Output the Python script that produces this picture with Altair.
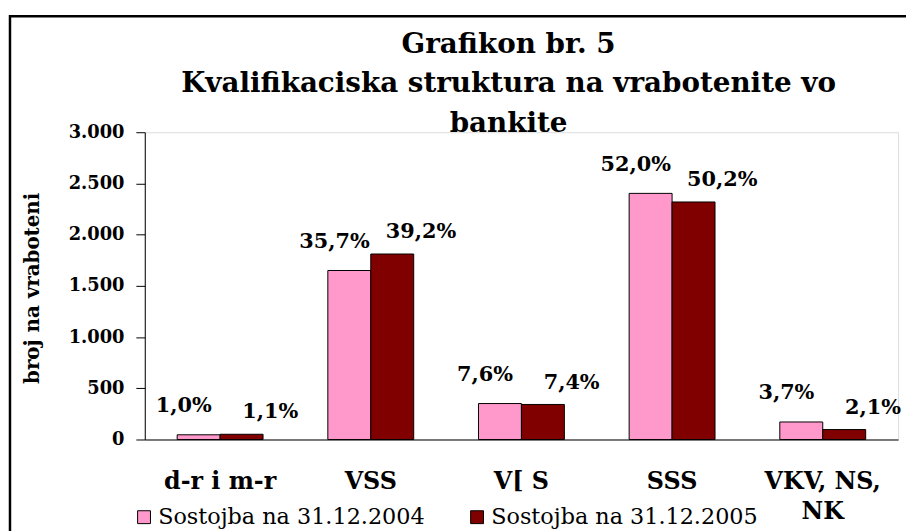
import altair as alt
import pandas as pd

categories = ["d-r i m-r", "VSS", "V[ S", "SSS", "VKV, NS, NK"]
series_names = ["Sostojba na 31.12.2004", "Sostojba na 31.12.2005"]
values_2004 = [46, 1650, 351, 2403, 171]
values_2005 = [51, 1811, 342, 2319, 97]
pct_2004 = [1.0, 35.7, 7.6, 52.0, 3.7]
pct_2005 = [1.1, 39.2, 7.4, 50.2, 2.1]
y_ticks = [0, 500, 1000, 1500, 2000, 2500, 3000]
colors = ["#FF99CC", "#800000"]
title_lines = ["Grafikon br. 5", "Kvalifikaciska struktura na vrabotenite vo", "bankite"]
y_title = "broj na vraboteni"

rows = []
for i, c in enumerate(categories):
    rows.append({"cat": c, "series": series_names[0], "value": values_2004[i], "pct": pct_2004[i]})
    rows.append({"cat": c, "series": series_names[1], "value": values_2005[i], "pct": pct_2005[i]})
df = pd.DataFrame(rows)

SERIF = "DejaVu Serif"

x_enc = alt.X(
    "cat:N", sort=categories,
    scale=alt.Scale(paddingInner=0.43, paddingOuter=0.215),
    axis=alt.Axis(
        title=None, labelAngle=0, ticks=False, tickSize=0,
        domainColor="black", domainWidth=1,
        labelFont=SERIF, labelFontWeight="bold", labelFontSize=24, labelColor="black",
        labelBaseline="alphabetic", labelPadding=49, labelLineHeight=31,
        labelExpr="datum.value == 'VKV, NS, NK' ? ['VKV, NS,', 'NK'] : datum.value",
    ),
)
xo_enc = alt.XOffset("series:N", sort=series_names, scale=alt.Scale(paddingInner=0, paddingOuter=0))
y_enc = alt.Y(
    "value:Q",
    scale=alt.Scale(domain=[0, 3000], nice=False),
    axis=alt.Axis(
        values=y_ticks, grid=False,
        labelExpr="replace(format(datum.value, ','), ',', '.')",
        labelFont=SERIF, labelFontWeight="bold", labelFontSize=18, labelColor="black",
        labelPadding=12, tickSize=9, tickColor="black", domainColor="black",
        title=y_title, titleFont=SERIF, titleFontWeight="bold", titleFontSize=20,
        titleColor="black", titleAngle=270, titleX=-113, titleY=157,
        titleBaseline="middle", titleAlign="center",
    ),
)
color_enc = alt.Color(
    "series:N", sort=series_names,
    scale=alt.Scale(domain=series_names, range=colors),
    legend=alt.Legend(
        title=None, orient="none", legendX=-12, legendY=377, direction="horizontal",
        symbolType="square", symbolSize=169, symbolStrokeColor="black", symbolStrokeWidth=1,
        labelFont=SERIF, labelFontSize=22.5, labelColor="black", labelLimit=0,
        labelOffset=3, columnPadding=41,
    ),
)

bars = alt.Chart(df).mark_bar(stroke="black", strokeWidth=1).encode(
    x=x_enc, xOffset=xo_enc, y=y_enc, color=color_enc
)

label_calc = "replace(format(datum.pct, '.1f'), '.', ',') + '%'"

text1 = alt.Chart(df).transform_filter(
    alt.datum.series == series_names[0]
).transform_calculate(label=label_calc).mark_text(
    font=SERIF, fontWeight="bold", fontSize=21, color="black",
    baseline="alphabetic", dx=-15, dy=-23,
).encode(x=alt.X("cat:N", sort=categories), xOffset=alt.XOffset("series:N", sort=series_names),
         y="value:Q", text="label:N")

text2 = alt.Chart(df).transform_filter(
    alt.datum.series == series_names[1]
).transform_calculate(label=label_calc).mark_text(
    font=SERIF, fontWeight="bold", fontSize=21, color="black",
    baseline="alphabetic", dx=29, dy=-16,
).encode(x=alt.X("cat:N", sort=categories), xOffset=alt.XOffset("series:N", sort=series_names),
         y="value:Q", text="label:N")

frame = alt.Chart(alt.Data(values=[{"k": 1}])).mark_rect(
    fill=None, stroke="black", strokeWidth=2.5
).encode(x=alt.value(-136), y=alt.value(-117), x2=alt.value(960), y2=alt.value(560))

chart = alt.layer(frame, bars, text1, text2).properties(
    width=760, height=310,
    padding={"left": 138, "top": 123, "right": 8, "bottom": 92},
    autosize=alt.AutoSizeParams(type="none"),
    title=alt.TitleParams(
        text=title_lines, font=SERIF, fontWeight="bold", fontSize=28, lineHeight=40,
        color="black", anchor="middle", dx=-13, offset=-124,
    ),
).configure_view(stroke=None).configure(background="white")

chart.save("out.html", embed_options={"renderer": "svg", "actions": False})
